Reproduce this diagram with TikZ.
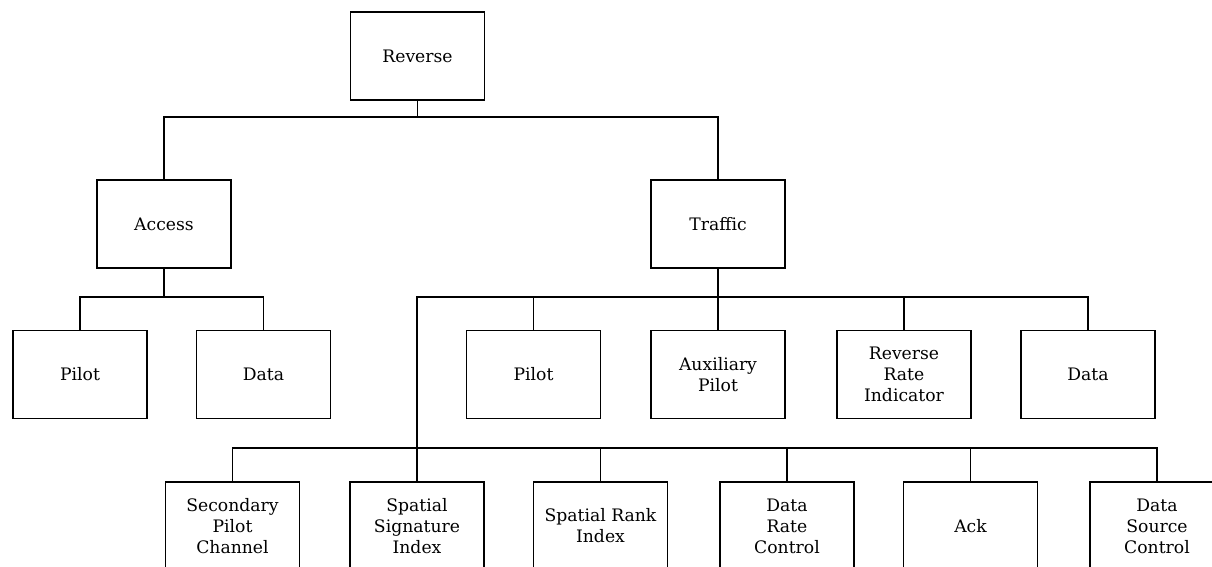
\documentclass[tikz,border=0pt]{standalone}
\usepackage{fontspec}
\setmainfont{DejaVu Serif}
\begin{document}
\begin{tikzpicture}[x=0.5pt,y=-0.5pt,
    box/.style={draw,line width=0.6pt,minimum width=67pt,minimum height=44pt,
      inner sep=1pt,align=center,font=\fontsize{8.6}{10.5}\selectfont},
    link/.style={line width=0.6pt}]
    \useasboundingbox (0,0) rectangle (1212,567);
    \clip (0,0) rectangle (1212,567);
    % top levels
    \node[box] (rev) at (417.5,56) {Reverse};
    \node[box] (acc) at (164,224) {Access};
    \node[box] (tra) at (718,224) {Traffic};
    % access channels
    \node[box] (apil) at (80,374.5) {Pilot};
    \node[box] (adat) at (263.5,374.5) {Data};
    % traffic channels
    \node[box] (tpil) at (533.5,374.5) {Pilot};
    \node[box] (taux) at (718,374.5) {Auxiliary\\Pilot};
    \node[box] (trri) at (904,374.5) {Reverse\\Rate\\Indicator};
    \node[box] (tdat) at (1088,374.5) {Data};
    % MAC channels
    \node[box] (spc) at (232.5,526) {Secondary\\Pilot\\Channel};
    \node[box] (ssi) at (417,526) {Spatial\\Signature\\Index};
    \node[box] (sri) at (600.5,526) {Spatial Rank\\Index};
    \node[box] (drc) at (787,526) {Data\\Rate\\Control};
    \node[box] (ack) at (970.5,526) {Ack};
    \node[box] (dsc) at (1157,526) {Data\\Source\\Control};
    % joints
    \coordinate (jrev) at (417.5,117);
    \coordinate (jacc) at (164,297);
    \coordinate (jtra) at (718,297);
    \coordinate (jmac) at (417,448);
    % connectors
    \draw[link] (rev) -- (jrev);
    \draw[link] (acc.north) |- (jrev) -| (tra.north);
    \draw[link] (acc) -- (jacc);
    \draw[link] (apil.north) |- (jacc) -| (adat.north);
    \draw[link] (tra) -- (taux);
    \draw[link] (jmac) |- (jtra) -| (tdat.north);
    \draw[link] (tpil.north) -- (tpil.north |- jtra);
    \draw[link] (trri.north) -- (trri.north |- jtra);
    \draw[link] (spc.north) |- (jmac) -| (dsc.north);
    \draw[link] (ssi.north) -- (jmac);
    \draw[link] (sri.north) -- (sri.north |- jmac);
    \draw[link] (drc.north) -- (drc.north |- jmac);
    \draw[link] (ack.north) -- (ack.north |- jmac);
\end{tikzpicture}
\end{document}
